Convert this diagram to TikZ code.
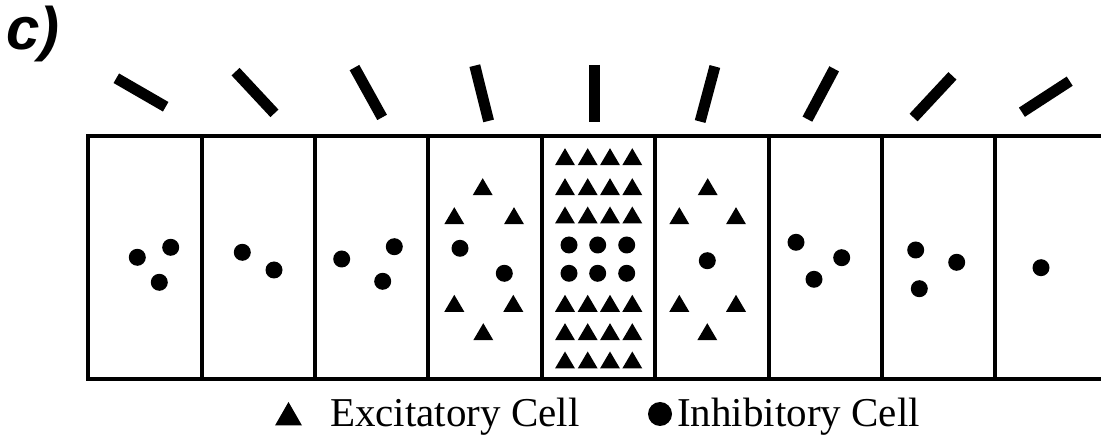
\documentclass[tikz,border=0pt]{standalone}
\usepackage{fontspec}
\setmainfont{Liberation Serif}
\setsansfont{Liberation Sans}
\begin{document}
\begin{tikzpicture}[x=1pt,y=-1pt,
  frameline/.style={line width=4pt},
  orientbar/.style={line width=11pt,line cap=butt},
  inhib/.style={fill=black},
  excit/.style={fill=black}]
\useasboundingbox (0,0) rectangle (1101,443);
% panel label
\node[anchor=base west,inner sep=0pt,font=\sffamily\bfseries\itshape\fontsize{60}{60}\selectfont] (lab) at (6,50) {c)};
% orientation bars
\foreach \cx/\cy/\a in {141/92.5/30, 255/92.5/47, 368.3/92.5/61, 481.7/93.3/76, 594/93.3/90, 707.5/94/105, 820.8/94/118, 933/96.7/133, 1045.8/96.7/147}{
  \draw[orientbar] ({\cx-28.5*cos(\a)},{\cy-28.5*sin(\a)}) -- ({\cx+28.5*cos(\a)},{\cy+28.5*sin(\a)});
}
% frame
\draw[frameline] (1101,136.5) -- (88,136.5) -- (88,379) -- (1101,379);
\foreach \x in {201.5,314.5,428,542,655,768.5,882,995}{
  \draw[frameline] (\x,136.5) -- (\x,379);
}
% inhibitory dots
\foreach \x/\y in {137.3/257.3, 170.7/247.3, 159.3/282.3,
                   242.3/252.3, 274/270,
                   341.7/259, 394.3/246.7, 382.7/281.3,
                   460/248.3, 504.3/273.3,
                   569/245, 597.7/245, 626.7/245, 569/273.3, 597.7/273.3, 626.7/273.3,
                   707.3/260.7,
                   796/242.3, 841.7/257.7, 814/279.3,
                   915.7/250, 956.7/262.3, 919.3/288.7,
                   1041/267.7}{
  \fill[inhib] (\x,\y) circle (8.5);
}
% excitatory triangles
\foreach \x/\y in {482.7/186.7, 454.3/215.7, 514/215.7, 454.3/303.3, 513.3/303.3, 483.3/331.7,
                   707.7/186.7, 679.3/215.7, 736/215.7, 679.3/303.3, 736/303.3, 707.3/331.7}{
  \fill[excit] (\x,\y-8.5) -- (\x+10,\y+8.5) -- (\x-10,\y+8.5) -- cycle;
}
\foreach \y in {156.7,186.7,215,303.3,331.7,360}{
  \foreach \x in {565,587.7,610,632.3}{
    \fill[excit] (\x,\y-8.5) -- (\x+10,\y+8.5) -- (\x-10,\y+8.5) -- cycle;
  }
}
% legend
\fill[excit] (288.5,402) -- (302,425.5) -- (275,425.5) -- cycle;
\node[anchor=base west,inner sep=0pt,font=\fontsize{41}{41}\selectfont] (ex) at (330,427) {Excitatory Cell};
\fill[inhib] (660,414) circle (12);
\node[anchor=base west,inner sep=0pt,font=\fontsize{41}{41}\selectfont] (in) at (677,427) {Inhibitory Cell};
\end{tikzpicture}
\end{document}
